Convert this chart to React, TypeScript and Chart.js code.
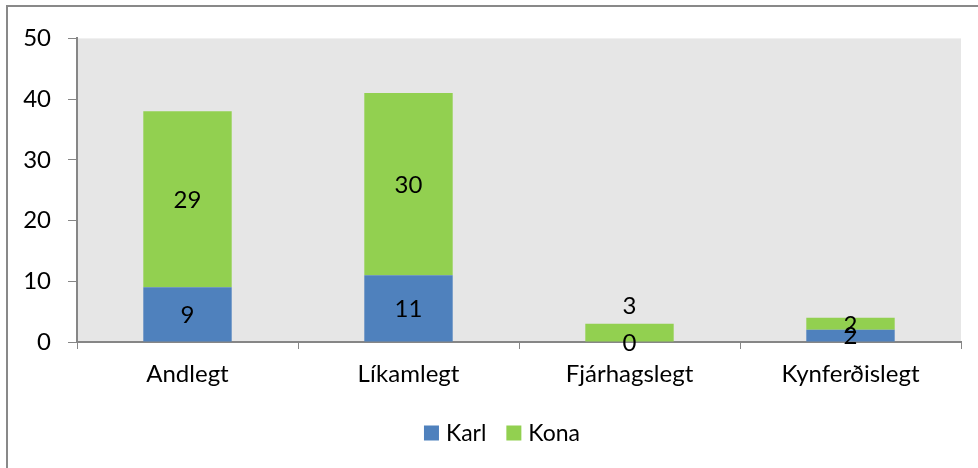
import React, { useEffect, useRef } from "react";
import { Chart, registerables } from "chart.js";

Chart.register(...registerables);

const categories = ["Andlegt", "Líkamlegt", "Fjárhagslegt", "Kynferðislegt"];
const karl = [9, 11, 0, 2];
const kona = [29, 30, 3, 2];
const seriesNames = ["Karl", "Kona"];
const seriesColors = ["#4F81BD", "#92D050"];
const yTicks = [0, 10, 20, 30, 40, 50];

const FONT = "Lato, 'Open Sans', sans-serif";

const bgPlugin = {
  id: "plotBg",
  beforeDraw(chart: any) {
    const { ctx, chartArea } = chart;
    ctx.save();
    ctx.fillStyle = "#E6E6E6";
    ctx.fillRect(chartArea.left, chartArea.top, chartArea.right - chartArea.left, chartArea.bottom - chartArea.top);
    ctx.restore();
  },
};

const labelPlugin = {
  id: "barLabels",
  afterDatasetsDraw(chart: any) {
    const { ctx } = chart;
    ctx.save();
    ctx.font = `24px ${FONT}`;
    ctx.fillStyle = "#000";
    ctx.textAlign = "center";
    ctx.textBaseline = "middle";
    chart.data.datasets.forEach((ds: any, di: number) => {
      const meta = chart.getDatasetMeta(di);
      meta.data.forEach((el: any, i: number) => {
        const v = ds.data[i];
        let y = (el.y + el.base) / 2;
        if (di === 1 && chart.data.datasets[0].data[i] === 0) {
          y = el.y - 19;
        }
        ctx.fillText(String(v), el.x, y + 1);
      });
    });
    ctx.restore();
  },
};

const legendPlugin = {
  id: "customLegend",
  afterDraw(chart: any) {
    const { ctx } = chart;
    ctx.save();
    ctx.font = `23px ${FONT}`;
    const box = 15;
    const gapText = 7;
    const gapItem = 20;
    const widths = seriesNames.map((n) => ctx.measureText(n).width);
    const total = widths.reduce((a, w) => a + box + gapText + w, 0) + gapItem * (seriesNames.length - 1);
    let x = chart.width / 2 - total / 2;
    const cy = 426;
    ctx.textBaseline = "middle";
    ctx.textAlign = "left";
    seriesNames.forEach((n, i) => {
      ctx.fillStyle = seriesColors[i];
      ctx.fillRect(x, cy - box / 2, box, box);
      ctx.fillStyle = "#000";
      ctx.fillText(n, x + box + gapText, cy + 1);
      x += box + gapText + widths[i] + gapItem;
    });
    ctx.restore();
  },
};

export default function App() {
  const ref = useRef<HTMLCanvasElement>(null);
  useEffect(() => {
    document.body.style.margin = "0";
    const chart = new Chart(ref.current!, {
      type: "bar",
      data: {
        labels: categories,
        datasets: [
          { label: seriesNames[0], data: karl, backgroundColor: seriesColors[0], categoryPercentage: 1, barPercentage: 0.4 },
          { label: seriesNames[1], data: kona, backgroundColor: seriesColors[1], categoryPercentage: 1, barPercentage: 0.4 },
        ],
      },
      options: {
        responsive: false,
        animation: false,
        layout: { padding: { top: 29, right: 35, left: 0, bottom: 0 } },
        plugins: { legend: { display: false }, tooltip: { enabled: false } },
        scales: {
          x: {
            stacked: true,
            grid: { display: true, drawOnChartArea: false, tickLength: 7, color: "#868686", offset: true },
            border: { color: "#868686", width: 2 },
            ticks: { font: { family: FONT, size: 24 }, color: "#000", padding: 11 },
            afterFit(scale: any) {
              scale.height = 125;
            },
          },
          y: {
            stacked: true,
            min: 0,
            max: 50,
            afterBuildTicks(scale: any) {
              scale.ticks = yTicks.map((v) => ({ value: v }));
            },
            grid: { display: true, drawOnChartArea: false, tickLength: 9, color: "#868686" },
            border: { color: "#868686", width: 2 },
            ticks: { font: { family: FONT, size: 24 }, color: "#000", padding: 17 },
            afterFit(scale: any) {
              scale.width = 69;
            },
          },
        },
      },
      plugins: [bgPlugin, labelPlugin, legendPlugin],
    });
    return () => chart.destroy();
  }, []);
  return (
    <div style={{ position: "relative", width: 978, height: 468, overflow: "hidden", background: "#fff" }}>
      <div
        style={{
          position: "absolute",
          left: 6,
          top: 5,
          width: 1100,
          height: 600,
          border: "2px solid #898989",
          boxSizing: "border-box",
        }}
      />
      <canvas ref={ref} width={988} height={460} style={{ position: "absolute", left: 8, top: 7 }} />
    </div>
  );
}
